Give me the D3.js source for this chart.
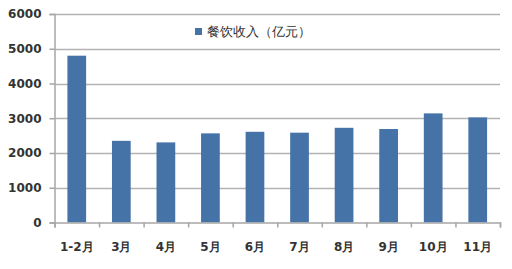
<!DOCTYPE html>
<html>
<head>
<meta charset="utf-8">
<script src="https://cdn.jsdelivr.net/npm/d3@7"></script>
<style>
  body { margin: 0; background: #fff; }
  text { font-family: "DejaVu Sans", Verdana, sans-serif; }
</style>
</head>
<body>
<div id="chart"></div>
<script>
// data
const months = ["1-2月", "3月", "4月", "5月", "6月", "7月", "8月", "9月", "10月", "11月"];
const revenue = [4800, 2350, 2305, 2565, 2610, 2585, 2725, 2690, 3140, 3025];
const yTicks = [0, 1000, 2000, 3000, 4000, 5000, 6000];
const legendLabel = "餐饮收入（亿元）";

const width = 512, height = 269;
const margin = {top: 14, right: 12, bottom: 46.5, left: 54.5};
const innerW = width - margin.left - margin.right;
const innerH = height - margin.top - margin.bottom;

let svg = d3.select("#chart")
    .append("svg")
    .attr("width", width)
    .attr("height", height)
    .append("g")
    .attr("transform", `translate(${margin.left}, ${margin.top})`);

let x = d3.scaleBand()
    .domain(months)
    .range([0, innerW])
    .paddingInner(0.58)
    .paddingOuter(0.29);

let y = d3.scaleLinear()
    .domain([0, 6000])
    .range([innerH, 0]);

// gridlines
svg.append("g")
    .selectAll("line")
    .data(yTicks.slice(1))
    .enter()
    .append("line")
    .attr("x1", 0)
    .attr("x2", innerW)
    .attr("y1", d => Math.round(y(d)) + 0.5)
    .attr("y2", d => Math.round(y(d)) + 0.5)
    .attr("stroke", "#b3b3b3")
    .attr("stroke-width", 1.5);

// bars
svg.append("g")
    .selectAll("rect")
    .data(revenue)
    .enter()
    .append("rect")
    .attr("x", (d, i) => x(months[i]))
    .attr("y", d => y(d))
    .attr("width", x.bandwidth())
    .attr("height", d => innerH - y(d))
    .attr("fill", "#4572a7");

// y axis
let yAxis = svg.append("g")
    .call(d3.axisLeft(y).tickValues(yTicks).tickFormat(d3.format("d")).tickSize(5).tickPadding(8));
yAxis.selectAll("text")
    .attr("font-size", 12)
    .attr("font-weight", "bold")
    .attr("fill", "#333");

// x axis: ticks at band boundaries
let xb = d3.scaleLinear().domain([0, months.length]).range([0, innerW]);
svg.append("g")
    .attr("transform", `translate(0, ${innerH})`)
    .call(d3.axisBottom(xb).ticks(months.length).tickSize(5).tickFormat(""));
svg.append("g")
    .attr("transform", `translate(0, ${innerH})`)
    .selectAll("text")
    .data(months)
    .enter()
    .append("text")
    .attr("x", d => x(d) + x.bandwidth() / 2)
    .attr("y", 28)
    .attr("text-anchor", "middle")
    .attr("font-size", 12)
    .attr("font-weight", "bold")
    .attr("fill", "#333")
    .text(d => d);

svg.selectAll(".domain, .tick line")
    .attr("stroke", "#a6a6a6")
    .attr("stroke-width", 1.5);

// legend
let legend = svg.append("g")
    .attr("transform", `translate(${195 - margin.left}, ${28 - margin.top})`);
legend.append("rect")
    .attr("width", 7)
    .attr("height", 7)
    .attr("fill", "#4572a7");
legend.append("text")
    .attr("x", 12)
    .attr("y", 8)
    .attr("font-family", "'Noto Sans CJK SC', sans-serif")
    .attr("font-size", 13)
    .attr("fill", "#333")
    .text(legendLabel);
</script>
</body>
</html>
